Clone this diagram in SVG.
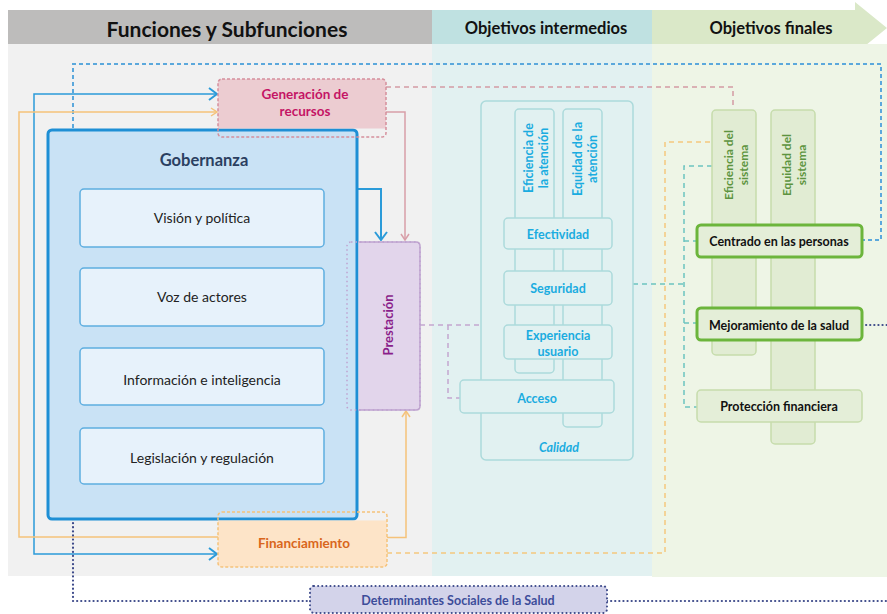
<svg xmlns="http://www.w3.org/2000/svg" width="887" height="614" viewBox="0 0 887 614">
<style>
 text{font-family:Lato,"Liberation Sans",sans-serif;text-anchor:middle;dominant-baseline:central}
 .hd{font-weight:bold;fill:#111}
 .sub rect{fill:#e7f2fb;stroke:#5eaee0;stroke-width:1.5}
 .sub text{font-size:14px;fill:#222}
 .cal rect{fill:#e1f1f1;stroke:#acdadb;stroke-width:1.5}
 .cal text{font-size:12.5px;font-weight:bold;fill:#1aace0}
 .gcol rect{fill:#e1ecd3;stroke:#c6dcac;stroke-width:1.5}
 .gcol text{font-size:12px;font-weight:bold;fill:#5d9440}
 .fin rect{fill:#e4eed8;stroke:#6cb53c;stroke-width:3}
 .fin text{font-size:12.5px;font-weight:bold;fill:#111}
 .dash{fill:none;stroke-dasharray:5 4;stroke-width:1.5}
</style>
<defs>
 <marker id="aB" viewBox="0 0 10 14" refX="9" refY="7" markerWidth="10" markerHeight="14" markerUnits="userSpaceOnUse" orient="auto"><path d="M1,1 L9,7 L1,13" fill="none" stroke="#2b9bd9" stroke-width="2"/></marker>
 <marker id="aO" viewBox="0 0 8 10" refX="7" refY="5" markerWidth="8" markerHeight="10" markerUnits="userSpaceOnUse" orient="auto"><path d="M1,1 L7,5 L1,9" fill="none" stroke="#f5c27a" stroke-width="1.5"/></marker>
 <marker id="aP" viewBox="0 0 8 10" refX="7" refY="5" markerWidth="8" markerHeight="10" markerUnits="userSpaceOnUse" orient="auto"><path d="M1,1 L7,5 L1,9" fill="none" stroke="#d89ea8" stroke-width="1.5"/></marker>
</defs>

<g id="background">
 <rect x="8" y="10" width="424" height="34" fill="#bdbcbb"/>
 <rect x="8" y="44" width="424" height="532" fill="#f1f1f1"/>
 <rect x="432" y="10" width="220" height="34" fill="#bfe1e1"/>
 <rect x="432" y="44" width="220" height="532" fill="#e2f1f1"/>
 <path d="M652,10 H855 V2 L887,28 L855,54 V44 H652 Z" fill="#dae8c8"/>
 <rect x="652" y="44" width="235" height="533" fill="#eef5e6"/>
 <text class="hd" x="227" y="28" font-size="21">Funciones y Subfunciones</text>
 <text class="hd" x="546" y="28" font-size="16.5">Objetivos intermedios</text>
 <text class="hd" x="771" y="28" font-size="16.5">Objetivos finales</text>
</g>

<g id="connectors">
 <path d="M73,128 V64 H881 V240 H863" fill="none" stroke="#5ba8dc" stroke-width="2" stroke-dasharray="4 3"/>
 <path class="dash" d="M386,87 H733 V109" stroke="#d49aa4"/>
 <path d="M386,112 H405 V240" fill="none" stroke="#d89ea8" stroke-width="1.5" marker-end="url(#aP)"/>
 <path d="M357,189 H381 V240" fill="none" stroke="#2b9bd9" stroke-width="2" marker-end="url(#aB)"/>
 <path d="M34,324 V94 H217" fill="none" stroke="#2b9bd9" stroke-width="1.5" marker-end="url(#aB)"/>
 <path d="M34,324 V554 H217" fill="none" stroke="#2b9bd9" stroke-width="1.5" marker-end="url(#aB)"/>
 <path d="M218,537 H19 V112 H217" fill="none" stroke="#f5c27a" stroke-width="1.5" marker-end="url(#aO)"/>
 <path d="M387,537.5 H406 V411" fill="none" stroke="#f5c27a" stroke-width="1.5" marker-end="url(#aO)"/>
 <path class="dash" d="M387,553 H665 V142 H712" stroke="#f5c77e"/>
 <path class="dash" d="M420,325 H481 M448,325 V398 H460" stroke="#c3a6cf"/>
 <path class="dash" d="M633,284 H684 M712,166 H684 V407 H697 M684,241 H697 M684,323 H697" stroke="#6cc3c0"/>
 <path d="M73,519 V601 H310 M607,601 H887 M862,325 H887" fill="none" stroke="#3d4a8a" stroke-width="2.2" stroke-linecap="round" stroke-dasharray="0.1 4"/>
</g>

<g id="gobernanza">
 <rect x="48" y="130" width="309" height="389" rx="4" fill="#c9e2f5" stroke="#1e8fd5" stroke-width="3"/>
 <text x="204" y="160" font-size="16.5" font-weight="bold" fill="#2b3f61">Gobernanza</text>
</g>
<g id="vision" class="sub"><rect x="80" y="189" width="244" height="58" rx="4"/><text x="202" y="217">Visión y política</text></g>
<g id="voz" class="sub"><rect x="80" y="268" width="244" height="58" rx="4"/><text x="202" y="296">Voz de actores</text></g>
<g id="informacion" class="sub"><rect x="80" y="348" width="244" height="57" rx="4"/><text x="202" y="379">Información e inteligencia</text></g>
<g id="legislacion" class="sub"><rect x="80" y="428" width="244" height="56" rx="4"/><text x="202" y="457">Legislación y regulación</text></g>

<g id="generacion">
 <path d="M218,128.5 V83 Q218,79 222,79 H382 Q386,79 386,83 V128.5 Z" fill="#ecccd1"/>
 <rect x="218" y="79" width="168" height="58" rx="4" fill="none" stroke="#d58f9c" stroke-width="1.5" stroke-dasharray="3 2"/>
 <text x="305" y="94" font-size="13.5" font-weight="bold" fill="#c41565">Generación de</text>
 <text x="305" y="111" font-size="13.5" font-weight="bold" fill="#c41565">recursos</text>
</g>

<g id="prestacion">
 <path d="M358.5,242 H416 Q420,242 420,246 V406 Q420,410 416,410 H358.5 Z" fill="#e2d5eb"/>
 <rect x="347" y="242" width="73" height="168" rx="4" fill="none" stroke="#bfa3cf" stroke-width="1.5" stroke-dasharray="1.5 3"/>
 <path d="M358.5,242 H416 Q420,242 420,246 V406 Q420,410 416,410 H358.5" fill="none" stroke="#bfa3cf" stroke-width="1.5"/>
 <text transform="translate(388,325) rotate(-90)" font-size="13" font-weight="bold" fill="#8a1e8a">Prestación</text>
</g>

<g id="financiamiento">
 <path d="M218,520.5 H387 V563 Q387,567 383,567 H222 Q218,567 218,563 Z" fill="#fde4c8"/>
 <rect x="218" y="512" width="169" height="55" rx="4" fill="none" stroke="#f5c27a" stroke-width="1.5" stroke-dasharray="3 2"/>
 <text x="304" y="543" font-size="13.5" font-weight="bold" fill="#d9661c">Financiamiento</text>
</g>

<g id="calidad" class="cal">
 <rect x="481" y="101" width="152" height="359" rx="5"/>
 <text x="559" y="447" font-style="italic">Calidad</text>
</g>
<g id="eficiencia-atencion" class="cal">
 <rect x="515" y="109" width="39" height="264" rx="4"/>
 <text transform="translate(535,158) rotate(-90)"><tspan x="0" y="-7">Eficiencia de</tspan><tspan x="0" y="8">la atención</tspan></text>
</g>
<g id="equidad-atencion" class="cal">
 <rect x="563" y="109" width="39" height="318" rx="4"/>
 <text transform="translate(584,159) rotate(-90)"><tspan x="0" y="-7">Equidad de la</tspan><tspan x="0" y="8">atención</tspan></text>
</g>
<g id="efectividad" class="cal"><rect x="504" y="218" width="108" height="31" rx="4"/><text x="558" y="234">Efectividad</text></g>
<g id="seguridad" class="cal"><rect x="504" y="271" width="108" height="34" rx="4"/><text x="558" y="288">Seguridad</text></g>
<g id="experiencia" class="cal"><rect x="504" y="325" width="108" height="34" rx="4"/><text x="558" y="335">Experiencia</text><text x="558" y="351">usuario</text></g>
<g id="acceso" class="cal"><rect x="460" y="380" width="154" height="33" rx="4"/><text x="537" y="398">Acceso</text></g>

<g id="eficiencia-sistema" class="gcol">
 <rect x="712" y="110" width="44" height="245" rx="4"/>
 <text transform="translate(735,165) rotate(-90)"><tspan x="0" y="-7">Eficiencia del</tspan><tspan x="0" y="8">sistema</tspan></text>
</g>
<g id="equidad-sistema" class="gcol">
 <rect x="771" y="110" width="44" height="334" rx="4"/>
 <text transform="translate(793,165) rotate(-90)"><tspan x="0" y="-7">Equidad del</tspan><tspan x="0" y="8">sistema</tspan></text>
</g>
<g id="centrado" class="fin"><rect x="697" y="225" width="165" height="32" rx="4"/><text x="779" y="241">Centrado en las personas</text></g>
<g id="mejoramiento" class="fin"><rect x="697" y="308" width="165" height="32" rx="4"/><text x="779" y="325">Mejoramiento de la salud</text></g>
<g id="proteccion" class="fin"><rect x="697" y="390" width="165" height="32" rx="4" style="stroke:#c6dcac;stroke-width:1.5"/><text x="779" y="406">Protección financiera</text></g>

<g id="determinantes">
 <rect x="310" y="586" width="297" height="27" rx="4" fill="#d3d3ea" stroke="#3d4a8a" stroke-width="2" stroke-linecap="round" stroke-dasharray="0.1 4"/>
 <text x="458" y="600" font-size="12.5" font-weight="bold" fill="#3d4d9a">Determinantes Sociales de la Salud</text>
</g>
</svg>
